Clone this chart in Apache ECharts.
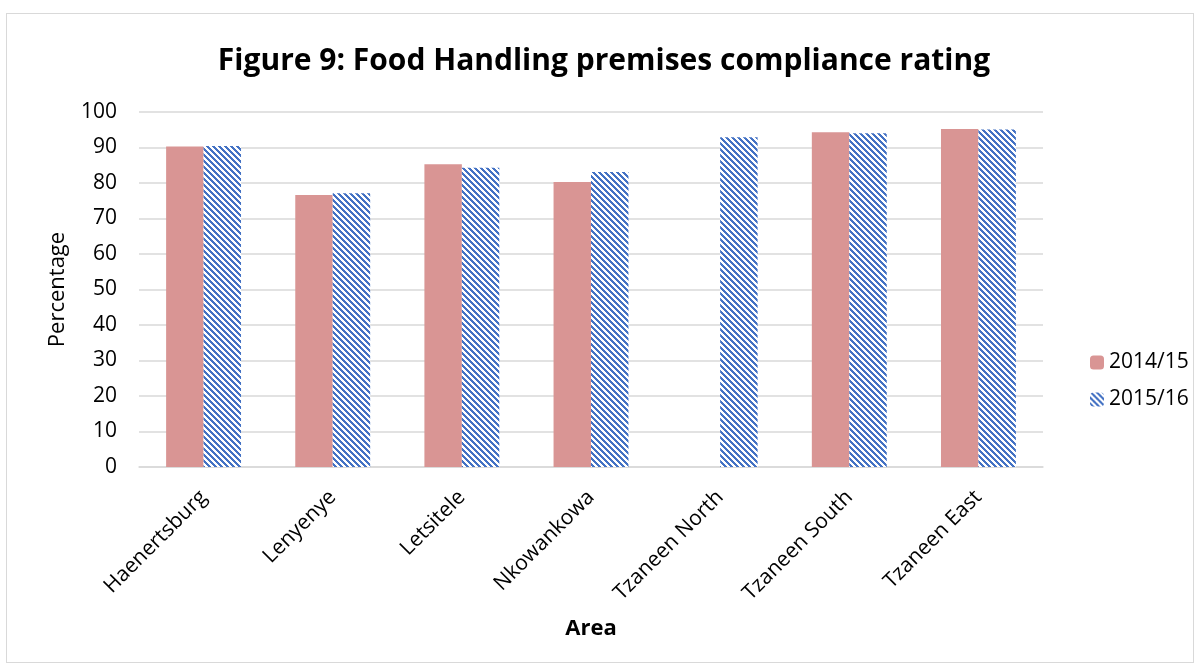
<!DOCTYPE html>
<html><head><meta charset="utf-8">
<script src="https://cdn.jsdelivr.net/npm/echarts@6/dist/echarts.min.js"></script>
<style>html,body{margin:0;padding:0;background:#fff}#wrap{position:absolute;left:6px;top:13px;width:1188px;height:650px;border:1px solid #d9d9d9;box-sizing:border-box}#c{position:absolute;left:0;top:0;width:1201px;height:669px}</style>
</head><body><div id="wrap"></div><div id="c"></div>
<script>
const categories = ['Haenertsburg','Lenyenye','Letsitele','Nkowankowa','Tzaneen North','Tzaneen South','Tzaneen East'];
const values2014 = [90.3, 76.6, 85.3, 80.3, null, 94.3, 95.2];
const values2015 = [90.4, 77.1, 84.3, 83.1, 92.9, 94.0, 95.1];
const yTicks = [0,10,20,30,40,50,60,70,80,90,100];

const P = 6;
const cv = document.createElement('canvas');
cv.width = P; cv.height = P;
const g = cv.getContext('2d');
const img = g.createImageData(P, P);
for (let y = 0; y < P; y++) for (let x = 0; x < P; x++) {
  const i = (y*P + x)*4;
  const on = (((x - y) % P) + P) % P < 3;
  img.data[i] = on ? 0x44 : 255; img.data[i+1] = on ? 0x72 : 255; img.data[i+2] = on ? 0xC4 : 255; img.data[i+3] = 255;
}
g.putImageData(img, 0, 0);
const font = '"Open Sans", "Liberation Sans", sans-serif';
const chart = echarts.init(document.getElementById('c'), null, {renderer:'canvas'});
chart.setOption({
  animation:false,
  title:{text:'Figure 9: Food Handling premises compliance rating', left:599, textAlign:'center', top:41,
    textStyle:{fontFamily:font, fontSize:30, fontWeight:'bold', color:'#000'}},
  grid:{left:139, right:158, top:112, bottom:202},
  legend:{orient:'vertical', left:1085, top:347, itemWidth:14, itemHeight:14, itemGap:16,
    textStyle:{fontFamily:font, fontSize:21, color:'#000'}, data:['2014/15','2015/16']},
  xAxis:{type:'category', data:categories,
    axisLine:{lineStyle:{color:'#d9d9d9', width:1.5}}, axisTick:{show:false},
    name:'Area', nameLocation:'middle', nameGap:151,
    nameTextStyle:{fontFamily:font, fontSize:22, fontWeight:'bold', color:'#000'},
    axisLabel:{rotate:45, interval:0, margin:27, fontFamily:font, fontSize:21, color:'#000'}},
  yAxis:{type:'value', min:0, max:100, interval:10,
    axisLine:{show:false}, axisTick:{show:false},
    splitLine:{lineStyle:{color:'#d9d9d9', width:1.5}},
    name:'Percentage', nameLocation:'middle', nameGap:70,
    nameTextStyle:{fontFamily:font, fontSize:22, color:'#000'},
    axisLabel:{fontFamily:font, fontSize:21, color:'#000', margin:22,
      formatter:v=> yTicks.includes(v)? String(v):''}},
  series:[
    {name:'2014/15', type:'bar', data:values2014, barGap:'0%', barCategoryGap:'42%',
      itemStyle:{color:'#D99594'}},
    {name:'2015/16', type:'bar', data:values2015,
      itemStyle:{color:{image:cv, repeat:'repeat'}}}
  ]
});
</script></body></html>
